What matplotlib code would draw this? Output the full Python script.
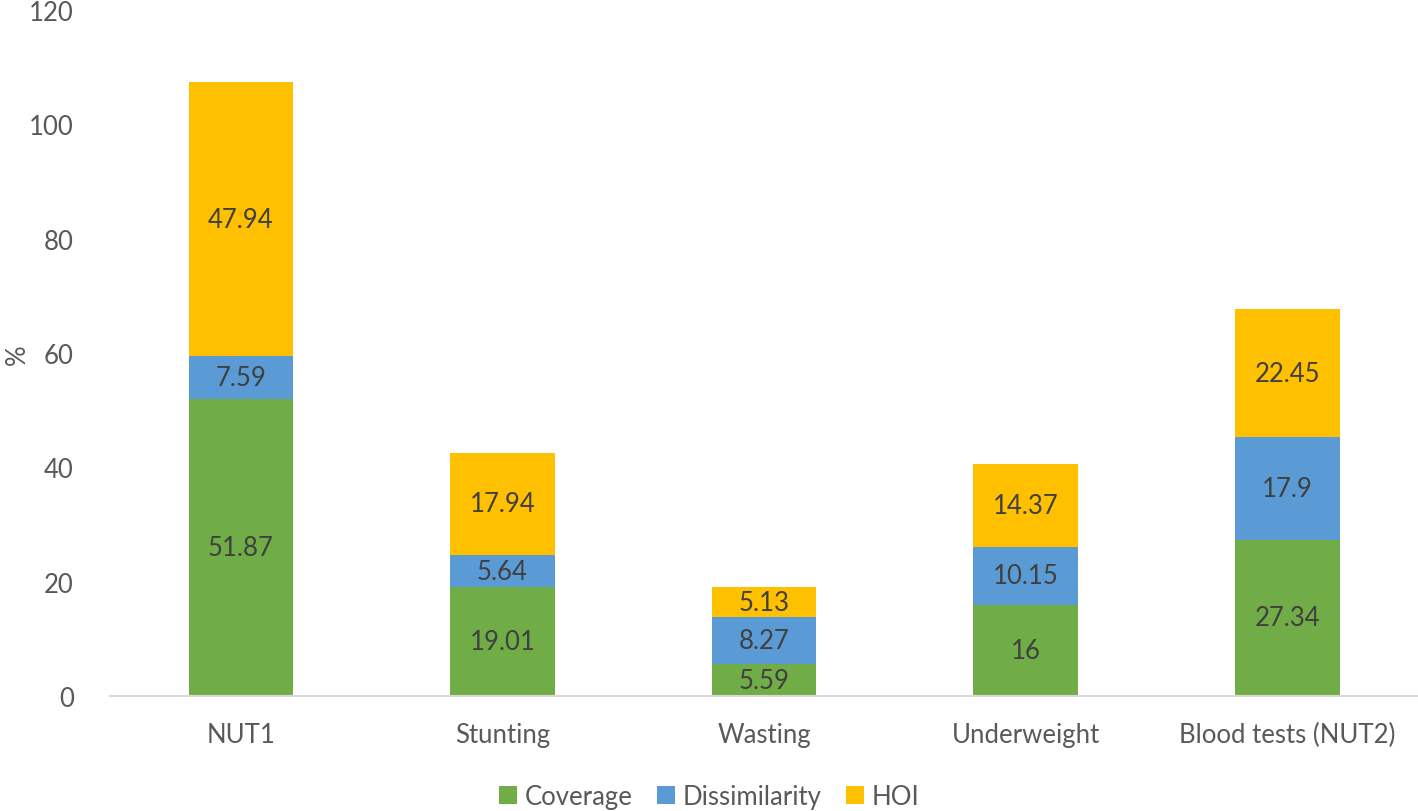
import matplotlib
matplotlib.use("Agg")
import matplotlib.pyplot as plt
import numpy as np

categories = ["NUT1", "Stunting", "Wasting", "Underweight", "Blood tests (NUT2)"]
coverage = [51.87, 19.01, 5.59, 16, 27.34]
dissimilarity = [7.59, 5.64, 8.27, 10.15, 17.9]
hoi = [47.94, 17.94, 5.13, 14.37, 22.45]
series_names = ["Coverage", "Dissimilarity", "HOI"]
colors = ["#70AD47", "#5B9BD5", "#FFC000"]

plt.rcParams['font.family'] = ['Lato', 'DejaVu Sans']
fs = 18.5

fig = plt.figure(figsize=(14.18, 8.12), dpi=100)
ax = fig.add_axes([0.0776, 0.1416, 0.9224, 0.8449])

x = np.arange(len(categories))
bottom = np.zeros(len(categories))
for vals, name, col in zip([coverage, dissimilarity, hoi], series_names, colors):
    bars = ax.bar(x, vals, 0.4, bottom=bottom, color=col, label=name)
    for b, v, bt in zip(bars, vals, bottom):
        ax.text(b.get_x() + b.get_width() / 2, bt + v / 2, f"{v:g}",
                ha="center", va="center", fontsize=fs, color="#404040")
    bottom = bottom + np.array(vals)

ax.set_xlim(-0.5, len(categories) - 0.5)
ax.set_ylim(0, 120)
ax.set_yticks(range(0, 121, 20))
ax.set_xticks(x)
ax.set_xticklabels(categories)
ax.tick_params(axis="both", length=0, labelsize=fs, labelcolor="#595959")
ax.tick_params(axis="y", pad=26)
ax.tick_params(axis="x", pad=19)
for s in ["top", "right", "left"]:
    ax.spines[s].set_visible(False)
ax.spines["bottom"].set_color("#D9D9D9")
ax.spines["bottom"].set_linewidth(1.5)

fig.text(0.012, 0.563, "%", rotation=90, ha="center", va="center",
         fontsize=fs, color="#595959")

fig.legend(loc="center", bbox_to_anchor=(0.5, 0.018), ncol=3, frameon=False,
           fontsize=fs, labelcolor="#595959", handlelength=0.7, handleheight=0.7,
           handletextpad=0.3, columnspacing=0.95)

fig.savefig("out.png", dpi=100)
